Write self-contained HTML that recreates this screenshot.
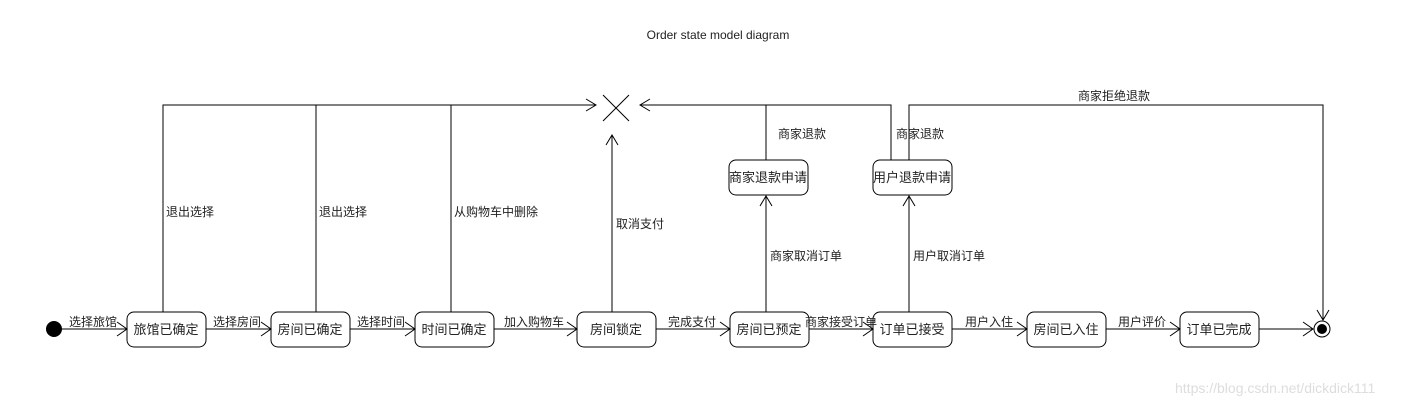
<!DOCTYPE html>
<html><head><meta charset="utf-8"><style>
body{margin:0;background:#fff}
text{font-family:"Liberation Sans","Noto Sans CJK SC",sans-serif;font-size:12px;fill:#222}
.b{font-size:13px}
</style></head><body>
<svg width="1412" height="407" xmlns="http://www.w3.org/2000/svg">
<g fill="none" stroke="#000" stroke-width="1">
<!-- boxes -->
<rect x="127" y="312" width="79" height="35" rx="7"/>
<rect x="271" y="312" width="79" height="35" rx="7"/>
<rect x="415" y="312" width="79" height="35" rx="7"/>
<rect x="577" y="312" width="79" height="35" rx="7"/>
<rect x="730" y="312" width="79" height="35" rx="7"/>
<rect x="873" y="312" width="79" height="35" rx="7"/>
<rect x="1027" y="312" width="79" height="35" rx="7"/>
<rect x="1180" y="312" width="79" height="35" rx="7"/>
<rect x="729" y="160" width="79" height="35" rx="7"/>
<rect x="873" y="160" width="79" height="35" rx="7"/>
<!-- horizontal flow -->
<path d="M62 329H127M206 329H271M350 329H415M494 329H577M656 329H730M809 329H873M952 329H1027M1106 329H1180M1259 329H1313"/>
<path d="M117 322L127 329L117 336M261 322L271 329L261 336M405 322L415 329L405 336M567 322L577 329L567 336M720 322L730 329L720 336M863 322L873 329L863 336M1017 322L1027 329L1017 336M1170 322L1180 329L1170 336M1303 322L1313 329L1303 336"/>
<!-- left top -->
<path d="M163 312V105H596M316 312V105M451 312V105"/>
<path d="M586 99L596 105L586 111"/>
<path d="M603 95L629 121M629 95L603 121"/>
<path d="M612 312V135M606 145L612 135L618 145"/>
<!-- right top -->
<path d="M891 160V105H640M650 99L640 105L650 111M766 160V105"/>
<path d="M909 160V105H1323V320M1317 310L1323 320L1329 310"/>
<path d="M766 312V196M760 206L766 196L772 206M909 312V196M903 206L909 196L915 206"/>
<circle cx="1322" cy="329" r="8"/>
</g>
<circle cx="54" cy="329" r="8" fill="#000"/>
<circle cx="1322" cy="329" r="5" fill="#000"/>
<text x="718" y="39" text-anchor="middle">Order state model diagram</text>
<g class="b" text-anchor="middle">
<text class="b" x="166" y="334">旅馆已确定</text>
<text class="b" x="310" y="334">房间已确定</text>
<text class="b" x="454" y="334">时间已确定</text>
<text class="b" x="616" y="334">房间锁定</text>
<text class="b" x="769" y="334">房间已预定</text>
<text class="b" x="912" y="334">订单已接受</text>
<text class="b" x="1066" y="334">房间已入住</text>
<text class="b" x="1219" y="334">订单已完成</text>
<text class="b" x="768" y="182">商家退款申请</text>
<text class="b" x="912" y="182">用户退款申请</text>
</g>
<text x="69" y="326">选择旅馆</text>
<text x="213" y="326">选择房间</text>
<text x="357" y="326">选择时间</text>
<text x="504" y="326">加入购物车</text>
<text x="668" y="326">完成支付</text>
<text x="805" y="326">商家接受订单</text>
<text x="965" y="326">用户入住</text>
<text x="1118" y="326">用户评价</text>
<text x="166" y="216">退出选择</text>
<text x="319" y="216">退出选择</text>
<text x="454" y="216">从购物车中删除</text>
<text x="616" y="228">取消支付</text>
<text x="770" y="260">商家取消订单</text>
<text x="913" y="260">用户取消订单</text>
<text x="778" y="138">商家退款</text>
<text x="896" y="138">商家退款</text>
<text x="1078" y="100">商家拒绝退款</text>
<text x="1175" y="393" style="font-size:14px;fill:#ddd">https://blog.csdn.net/dickdick111</text>
</svg>
</body></html>
